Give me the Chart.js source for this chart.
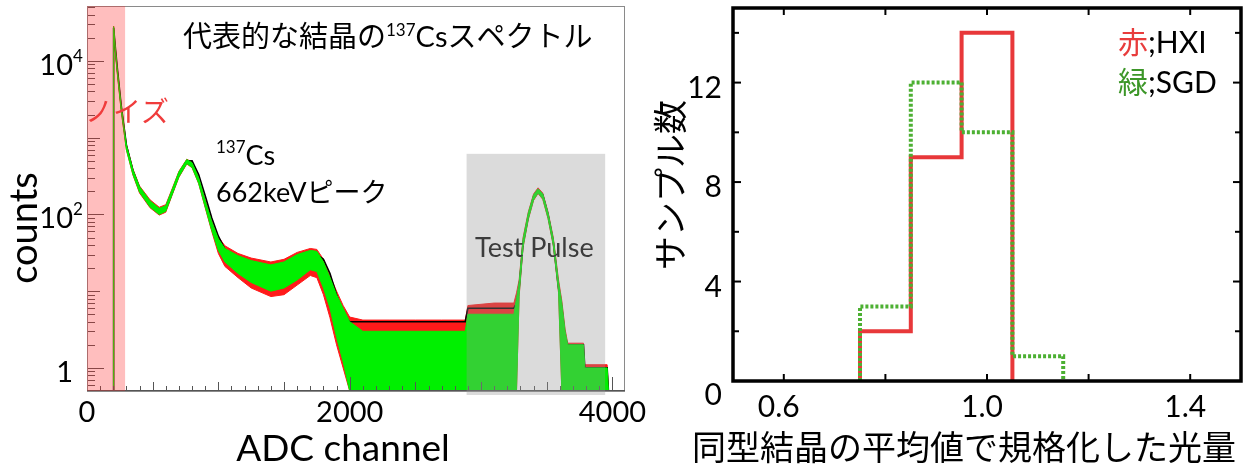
<!DOCTYPE html>
<html>
<head>
<meta charset="utf-8">
<script src="https://cdn.jsdelivr.net/npm/chart.js@4.4.1/dist/chart.umd.min.js"></script>
<style>
  html, body { margin: 0; padding: 0; background: #fff; }
  #wrap { position: relative; width: 1248px; height: 468px; overflow: hidden; }
  #spec { position: absolute; left: 0; top: 0; }
  #hist { position: absolute; left: 650px; top: 0; }
</style>
</head>
<body>
<div id="wrap">
  <canvas id="spec" width="650" height="468"></canvas>
  <canvas id="hist" width="598" height="468"></canvas>
</div>
<script>
// =====================
// Left panel: 137Cs spectrum (envelopes)
// =====================
const chan = [0, 190, 198, 200, 205, 215, 230, 260, 300, 350,
  400, 480, 550, 600, 650, 700, 760, 800, 850, 900,
  950, 1000, 1050, 1150, 1250, 1400, 1500, 1600, 1700, 1750,
  1800, 1850, 1900, 1950, 2000, 2100, 2300, 2500, 2700, 2880,
  2900, 3100, 3250, 3270, 3290, 3320, 3360, 3400, 3434, 3470,
  3510, 3550, 3590, 3615, 3640, 3660, 3780, 3790, 3960, 3970, 4096];

const greenHi = [0.5, 0.5, 0.5, 26000, 28000, 15000, 8000, 2600, 800, 380,
  230, 150, 120, 130, 215, 360, 520, 470, 300, 150,
  80, 48, 36, 29, 25, 22, 24, 30, 34, 33,
  24, 15, 9, 6, 4, 3, 3, 3, 3, 3,
  5, 5, 5, 8, 13, 48, 105, 180, 215, 185,
  105, 48, 13, 7, 3, 2, 2, 1, 1, 0.5, 0.5];
const greenLo = [0.5, 0.5, 0.5, 24000, 26000, 13500, 7200, 2300, 700, 330,
  195, 125, 100, 110, 185, 310, 460, 410, 255, 125,
  62, 34, 24, 17, 13, 10, 11, 14, 19, 18,
  11, 6, 2.5, 1.2, 0.5, 0.5, 0.5, 0.5, 0.5, 0.5,
  0.5, 0.5, 0.5, 0.5, 9, 38, 88, 155, 190, 160,
  90, 40, 10, 0.5, 0.5, 0.5, 0.5, 0.5, 0.5, 0.5, 0.5];
const redHi = [0.5, 0.5, 0.5, 26500, 28500, 15500, 8200, 2700, 820, 390,
  235, 155, 124, 134, 220, 365, 525, 480, 305, 155,
  83, 51, 39, 31, 27, 24, 26, 32, 36, 35,
  26, 16, 10, 6.5, 4.6, 4.2, 4.2, 4.2, 4.2, 4.2,
  6.5, 7, 7, 9.5, 14, 50, 108, 185, 222, 190,
  108, 50, 14, 7.5, 3.2, 2.1, 2.1, 1.1, 1.1, 0.5, 0.5];
const redLo = [0.5, 0.5, 0.5, 23500, 25500, 13200, 7000, 2250, 690, 325,
  190, 122, 98, 107, 182, 305, 455, 405, 252, 122,
  60, 31, 21, 15, 11, 8.5, 9, 12, 16, 15,
  9, 4.5, 2, 1, 0.5, 0.5, 0.5, 0.5, 0.5, 0.5,
  0.5, 0.5, 0.5, 0.5, 8.5, 37, 86, 152, 187, 157,
  88, 39, 9.5, 0.5, 0.5, 0.5, 0.5, 0.5, 0.5, 0.5, 0.5];
const blackCurve = [0.5, 0.5, 0.5, 24000, 27000, 15500, 8300, 2650, 800, 370,
  220, 140, 110, 118, 195, 335, 495, 500, 330, 175,
  90, 52, 35, 26, 20, 16, 18, 23, 28, 30,
  26, 17, 9, 5, 4, 4, 4, 4, 4, 4,
  6, 6, 6, 7, 11, 42, 95, 170, 205, 180,
  100, 44, 11, 6, 2.5, 2, 2, 1, 1, 0.5, 0.5];

const specXTicks = [0, 2000, 4000];
const specYTicks = [1, 100, 10000];      // labelled decades
const specYLabels = [["1", ""], ["10", "2"], ["10", "4"]];
const noiseBand = [0, 290];               // channels
const pulseBand = [2890, 3945, 616];      // channels, top in counts

// =====================
// Right panel: histogram of normalised light yield
// =====================
const hxiEdges = [0.75, 0.85, 0.95, 1.05];
const hxiCounts = [2, 9, 14];
const sgdEdges = [0.75, 0.85, 0.95, 1.05, 1.15];
const sgdCounts = [3, 12, 10, 1];
const histXTicks = [0.6, 0.8, 1.0, 1.2, 1.4];
const histXLabels = ["0.6", "", "1.0", "", "1.4"];
const histYTicks = [0, 2, 4, 6, 8, 10, 12, 14];
const histYLabels = ["0", "", "4", "", "8", "", "12", ""];

// =====================
// Utility Functions
// =====================
const FAM = "Lato, 'Noto Sans CJK JP', sans-serif";

function pts(ys) {
  return chan.map((c, i) => ({ x: c, y: ys[i] }));
}

function stepPts(edges, counts) {
  const out = [{ x: edges[0], y: 0 }];
  counts.forEach((c, i) => {
    out.push({ x: edges[i], y: c });
    out.push({ x: edges[i + 1], y: c });
  });
  out.push({ x: edges[counts.length], y: 0 });
  return out;
}

function seg(ctx, x1, y1, x2, y2) {
  ctx.beginPath();
  ctx.moveTo(x1, y1);
  ctx.lineTo(x2, y2);
  ctx.stroke();
}

// draws pieces of text one after another: {t, size, color, dy}
function runs(ctx, x, y, parts) {
  parts.forEach(p => {
    ctx.font = p.size + "px " + FAM;
    ctx.fillStyle = p.color || "#000";
    ctx.fillText(p.t, x, y + (p.dy || 0));
    x += ctx.measureText(p.t).width;
  });
}

function band(label, data, color, fill) {
  return {
    label, data: pts(data), borderColor: color, backgroundColor: color,
    borderWidth: 1, pointRadius: 0, tension: 0, fill: fill
  };
}

// =====================
// Left panel plugins
// =====================
const specDecor = {
  id: "specDecor",
  afterDatasetsDraw(chart) {
    const ctx = chart.ctx, a = chart.chartArea;
    const xs = chart.scales.x, ys = chart.scales.y;
    ctx.save();
    // ticks
    ctx.strokeStyle = "#555";
    ctx.lineWidth = 1;
    for (let c = 0; c <= 4000; c += 100) {
      const px = Math.round(xs.getPixelForValue(c)) + 0.5;
      const len = c % 2000 === 0 ? 14 : (c % 500 === 0 ? 9 : 5);
      seg(ctx, px, a.bottom, px, a.bottom - len);
    }
    for (let d = -1; d <= 4; d++) {
      for (let k = 1; k <= 9; k++) {
        const v = k * Math.pow(10, d);
        if (v < 0.5 || v > 52000) continue;
        const py = Math.round(ys.getPixelForValue(v)) + 0.5;
        const len = k === 1 ? (d % 2 === 0 ? 17 : 13) : 8;
        seg(ctx, a.left, py, a.left + len, py);
      }
    }
    // frame
    ctx.strokeStyle = "#8a8a8a";
    ctx.strokeRect(a.left + 0.5, a.top + 0.5, a.right - a.left - 1, a.bottom - a.top);
    ctx.strokeStyle = "#555";
    seg(ctx, a.left, a.bottom - 0.5, a.right, a.bottom - 0.5);
    // shaded regions on top of the data
    const n0 = xs.getPixelForValue(noiseBand[0]), n1 = xs.getPixelForValue(noiseBand[1]);
    ctx.fillStyle = "rgba(255,40,40,0.3)";
    ctx.fillRect(n0, a.top, n1 - n0, a.bottom - a.top);
    const p0 = xs.getPixelForValue(pulseBand[0]), p1 = xs.getPixelForValue(pulseBand[1]);
    const pt = ys.getPixelForValue(pulseBand[2]);
    ctx.fillStyle = "rgba(150,150,150,0.34)";
    ctx.fillRect(p0, pt, p1 - p0, a.bottom + 4 - pt);
    ctx.restore();
  },
  afterDraw(chart) {
    const ctx = chart.ctx, a = chart.chartArea;
    const xs = chart.scales.x, ys = chart.scales.y;
    ctx.save();
    ctx.textBaseline = "alphabetic";
    // x tick labels
    ctx.font = "29px " + FAM;
    ctx.fillStyle = "#000";
    ctx.textAlign = "center";
    specXTicks.forEach(v => ctx.fillText(String(v), xs.getPixelForValue(v), 422));
    // y tick labels with exponents
    specYTicks.forEach((v, i) => {
      const py = ys.getPixelForValue(v);
      const [base, sup] = specYLabels[i];
      ctx.font = "29px " + FAM;
      ctx.textAlign = "right";
      ctx.fillText(base, 73, py + 14);
      if (sup) {
        ctx.font = "17px " + FAM;
        ctx.textAlign = "left";
        ctx.fillText(sup, 73, py + 1);
      }
    });
    ctx.textAlign = "left";
    // axis titles
    ctx.font = "37px " + FAM;
    ctx.textAlign = "center";
    ctx.fillText("ADC channel", 343, 461);
    ctx.save();
    ctx.translate(37, 228);
    ctx.rotate(-Math.PI / 2);
    ctx.font = "38px " + FAM;
    ctx.fillText("counts", 0, 0);
    ctx.restore();
    ctx.textAlign = "left";
    // annotations
    runs(ctx, 183, 47, [
      { t: "代表的な結晶の", size: 29 },
      { t: "137", size: 17, dy: -11 },
      { t: "Cs", size: 29 },
      { t: "スペクトル", size: 29 }
    ]);
    runs(ctx, 85, 122, [{ t: "ノイズ", size: 28, color: "#f03c3c" }]);
    runs(ctx, 216, 165, [
      { t: "137", size: 17, dy: -12 },
      { t: "Cs", size: 27 }
    ]);
    runs(ctx, 216, 202, [{ t: "662keVピーク", size: 27 }]);
    runs(ctx, 475, 257, [{ t: "Test Pulse", size: 27, color: "#3c3c3c" }]);
    ctx.restore();
  }
};

new Chart(document.getElementById("spec"), {
  type: "line",
  data: {
    datasets: [
      band("green hi", greenHi, "#00f000", "+1"),
      band("green lo", greenLo, "#00f000", false),
      { label: "black", data: pts(blackCurve), borderColor: "#000", borderWidth: 1.6,
        pointRadius: 0, tension: 0, fill: false },
      band("red hi", redHi, "#ff1a1a", "+1"),
      band("red lo", redLo, "#ff1a1a", false)
    ]
  },
  options: {
    responsive: false,
    devicePixelRatio: 1,
    animation: false,
    layout: { padding: { left: 87, top: 6, right: 25, bottom: 77 } },
    plugins: { legend: { display: false }, tooltip: { enabled: false } },
    scales: {
      x: { type: "linear", min: 0, max: 4096, display: false },
      y: { type: "logarithmic", min: 0.5, max: 52000, display: false }
    }
  },
  plugins: [specDecor]
});

// =====================
// Right panel plugins
// =====================
const histDecor = {
  id: "histDecor",
  afterDraw(chart) {
    const ctx = chart.ctx, a = chart.chartArea;
    const xs = chart.scales.x, ys = chart.scales.y;
    ctx.save();
    ctx.strokeStyle = "#000";
    ctx.lineWidth = 2;
    histXTicks.forEach(v => {
      const px = xs.getPixelForValue(v);
      seg(ctx, px, a.bottom, px, a.bottom - 7);
      seg(ctx, px, a.top, px, a.top + 7);
    });
    histYTicks.forEach((v, i) => {
      const py = ys.getPixelForValue(v);
      const len = histYLabels[i] ? 8 : 6;
      seg(ctx, a.left, py, a.left + len, py);
      seg(ctx, a.right, py, a.right - len, py);
    });
    ctx.lineWidth = 3.5;
    ctx.strokeRect(a.left, a.top, a.right - a.left, a.bottom - a.top);

    ctx.fillStyle = "#000";
    ctx.font = "30px " + FAM;
    ctx.textAlign = "center";
    histXTicks.forEach((v, i) => {
      if (histXLabels[i]) ctx.fillText(histXLabels[i], xs.getPixelForValue(v) - 5, 417);
    });
    ctx.textAlign = "right";
    histYTicks.forEach((v, i) => {
      if (!histYLabels[i]) return;
      const py = ys.getPixelForValue(v) + (v === 0 ? 13 : 4);
      ctx.fillText(histYLabels[i], 72, py + 11);
    });
    // axis titles
    ctx.textAlign = "center";
    ctx.font = "34px " + FAM;
    ctx.fillText("同型結晶の平均値で規格化した光量", 314, 460);
    ctx.save();
    ctx.translate(22, 185);
    ctx.rotate(-Math.PI / 2);
    ctx.textBaseline = "middle";
    ctx.fillText("サンプル数", 0, 0);
    ctx.restore();
    // legend text
    ctx.textAlign = "left";
    runs(ctx, 468, 53, [
      { t: "赤", size: 30, color: "#e83c3c" },
      { t: ";HXI", size: 30 }
    ]);
    runs(ctx, 468, 93, [
      { t: "緑", size: 30, color: "#3c9628" },
      { t: ";SGD", size: 30 }
    ]);
    ctx.restore();
  }
};

new Chart(document.getElementById("hist"), {
  type: "line",
  data: {
    datasets: [
      { label: "SGD", data: stepPts(sgdEdges, sgdCounts), borderColor: "#4cb032",
        borderWidth: 4, borderDash: [3, 2], pointRadius: 0, tension: 0, fill: false },
      { label: "HXI", data: stepPts(hxiEdges, hxiCounts), borderColor: "#e8383a",
        borderWidth: 4, pointRadius: 0, tension: 0, fill: false }
    ]
  },
  options: {
    responsive: false,
    devicePixelRatio: 1,
    animation: false,
    layout: { padding: { left: 83, top: 8, right: 7, bottom: 87 } },
    plugins: { legend: { display: false }, tooltip: { enabled: false } },
    scales: {
      x: { type: "linear", min: 0.5, max: 1.5, display: false },
      y: { type: "linear", min: 0, max: 15, display: false }
    }
  },
  plugins: [histDecor]
});
</script>
</body>
</html>
